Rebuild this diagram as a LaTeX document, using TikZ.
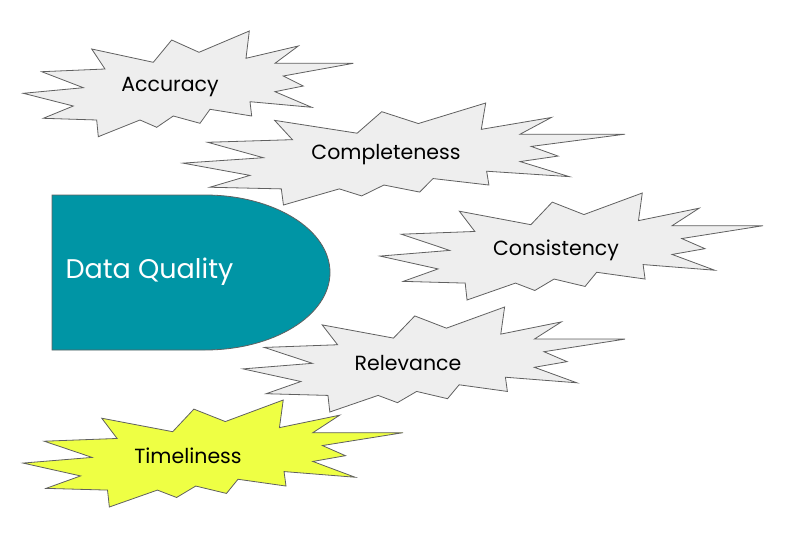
\documentclass[tikz,border=0pt]{standalone}
\usepackage{fontspec}
\setmainfont{Poppins}
\definecolor{burstgray}{HTML}{EEEEEE}
\definecolor{burstyellow}{HTML}{EEFF44}
\definecolor{teal}{HTML}{0095A5}
\definecolor{edge}{HTML}{606060}
\tikzset{
  burst/.style={draw=edge, line width=0.8pt, line join=miter},
  lbl/.style={font=\fontsize{20.5}{24}\selectfont, text=black},
}
\newcommand{\burstpath}{(226,0) -- (222.7,27.3) -- (275,15) -- (251.7,32.3) -- (330,32.3) -- (260,45) -- (280,55) -- (251.7,60.7) -- (288.4,76.3) -- (226.7,70.7) -- (228.4,85) -- (186.7,78.3) -- (176.7,92.3) -- (150,85) -- (133.4,96.3) -- (116.7,89) -- (75,105.7) -- (73.4,89) -- (20,87.3) -- (50,75) -- (0,62.3) -- (60,56.7) -- (18.4,40.7) -- (81.7,38) -- (68.4,18) -- (130,31.3) -- (148.4,9) -- (175.7,21.3) -- cycle}
\newcommand{\myburst}[6]{%
  \begin{scope}[shift={(#1,#2)}, xscale=#3/330, yscale=#4/105.7]
    \path[burst, fill=#5] \burstpath;
  \end{scope}}
\begin{document}
\begin{tikzpicture}[x=1pt,y=-1pt]
\useasboundingbox (0,0) rectangle (787,543);
\myburst{23.3}{31}{330}{105.7}{burstgray}{}
\myburst{183}{103}{442}{102}{burstgray}{}
\myburst{380}{193}{383}{107}{burstgray}{}
\myburst{243}{307}{382}{105}{burstgray}{}
\myburst{23}{400}{380}{107}{burstyellow}{}
\path[draw=edge, fill=teal, line width=0.8pt] (52,195) -- (205,195) arc[start angle=-90, end angle=90, x radius=125, y radius=77.5] -- (52,350) -- cycle;
\node[font=\fontsize{27}{32}\selectfont, text=white, anchor=west] (dq) at (62,272) {Data Quality};
\node[lbl] (acc) at (170,87) {Accuracy};
\node[lbl] (com) at (386,155) {Completeness};
\node[lbl] (con) at (556,250) {Consistency};
\node[lbl] (rel) at (408,363) {Relevance};
\node[lbl] (tim) at (188,456) {Timeliness};
\end{tikzpicture}
\end{document}
